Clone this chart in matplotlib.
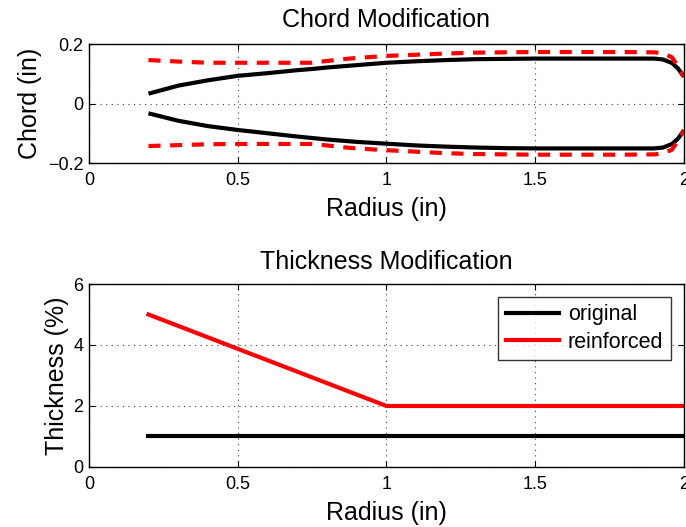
import matplotlib
matplotlib.use("Agg")
import matplotlib.pyplot as plt
import numpy as np

plt.rcParams['font.family'] = ['Liberation Sans', 'DejaVu Sans']

# ---- data ----
radius = [0.2, 0.3, 0.4, 0.5, 0.6, 0.7, 0.75, 0.8, 0.875, 0.9, 1.0, 1.1, 1.2, 1.3, 1.4,
          1.5, 1.6, 1.7, 1.8, 1.9, 1.93, 1.96, 1.98, 2.0]
orig_upper = [0.033, 0.060, 0.078, 0.093, 0.102, 0.112, 0.116, 0.121, 0.127, 0.129, 0.137,
              0.142, 0.146, 0.149, 0.150, 0.151, 0.151, 0.151, 0.151, 0.151, 0.148, 0.136,
              0.118, 0.090]
orig_lower = [-0.033, -0.058, -0.076, -0.089, -0.100, -0.111, -0.116, -0.121, -0.127, -0.129,
              -0.135, -0.141, -0.145, -0.148, -0.150, -0.151, -0.151, -0.151, -0.151, -0.151,
              -0.148, -0.136, -0.118, -0.090]
reinf_upper = [0.146, 0.141, 0.137, 0.137, 0.137, 0.137, 0.137, 0.143, 0.151, 0.153, 0.160,
               0.164, 0.168, 0.171, 0.172, 0.173, 0.173, 0.173, 0.173, 0.172, 0.169, 0.155,
               0.124, 0.090]
reinf_lower = [-0.143, -0.140, -0.137, -0.136, -0.136, -0.136, -0.136, -0.141, -0.149, -0.151,
               -0.157, -0.162, -0.167, -0.170, -0.171, -0.172, -0.172, -0.172, -0.172, -0.171,
               -0.168, -0.155, -0.124, -0.090]

radius_t = [0.2, 1.0, 2.0]
thick_orig = [1, 1, 1]
thick_reinf = [5, 2, 2]

xticks = [0, 0.5, 1, 1.5, 2]
xticklabels = ['0', '0.5', '1', '1.5', '2']
chord_ticks = [-0.2, 0, 0.2]
chord_ticklabels = ['\u22120.2', '0', '0.2']
thick_ticks = [0, 2, 4, 6]
thick_ticklabels = ['0', '2', '4', '6']

# ---- figure ----
fig = plt.figure(figsize=(6.86, 5.27), dpi=100)
ax1 = fig.add_axes([0.1297, 0.6907, 0.8673, 0.2258])
ax2 = fig.add_axes([0.1297, 0.1139, 0.8673, 0.3472])

lw = 3.0
dash = (0, (2.9, 2.3))
tick_fs = 13
lab_fs = 18

ax1.plot(radius, orig_upper, color='black', lw=lw, solid_capstyle='butt')
ax1.plot(radius, orig_lower, color='black', lw=lw, solid_capstyle='butt')
ax1.plot(radius, reinf_upper, color='red', lw=lw, linestyle=dash)
ax1.plot(radius, reinf_lower, color='red', lw=lw, linestyle=dash)
ax1.set_xlim(0, 2)
ax1.set_ylim(-0.2, 0.2)
ax1.set_yticks(chord_ticks)
ax1.set_yticklabels(chord_ticklabels)
ax1.set_title('Chord Modification', fontsize=lab_fs, pad=12.5)
ax1.set_ylabel('Chord (in)', fontsize=lab_fs, labelpad=4)
ax1.set_xlabel('Radius (in)', fontsize=lab_fs, labelpad=5.5)

ax2.plot(radius_t, thick_orig, color='black', lw=lw, label='original')
ax2.plot(radius_t, thick_reinf, color='red', lw=lw, label='reinforced')
ax2.set_xlim(0, 2)
ax2.set_ylim(0, 6)
ax2.set_yticks(thick_ticks)
ax2.set_yticklabels(thick_ticklabels)
ax2.set_title('Thickness Modification', fontsize=lab_fs, pad=11)
ax2.set_ylabel('Thickness (%)', fontsize=lab_fs, labelpad=3)
ax2.set_xlabel('Radius (in)', fontsize=lab_fs, labelpad=5.5)
leg = ax2.legend(loc='upper right', fontsize=15.5, frameon=True, fancybox=False,
                 edgecolor='black', handlelength=2.5, borderaxespad=0.6,
                 handletextpad=0.4, labelspacing=0.3, borderpad=0.35)
leg.get_frame().set_linewidth(1.0)

for ax in (ax1, ax2):
    ax.set_xticks(xticks)
    ax.set_xticklabels(xticklabels)
    ax.grid(True, linestyle=(0, (1, 4)), color='0.25', linewidth=0.8)
    ax.tick_params(direction='in', top=True, right=True, length=4, width=0.8,
                   labelsize=tick_fs)
    ax.tick_params(axis='x', pad=6.5)
    ax.tick_params(axis='y', pad=4)
    for s in ax.spines.values():
        s.set_linewidth(1.0)
        s.set_color('black')

fig.savefig('out.png', dpi=100)
